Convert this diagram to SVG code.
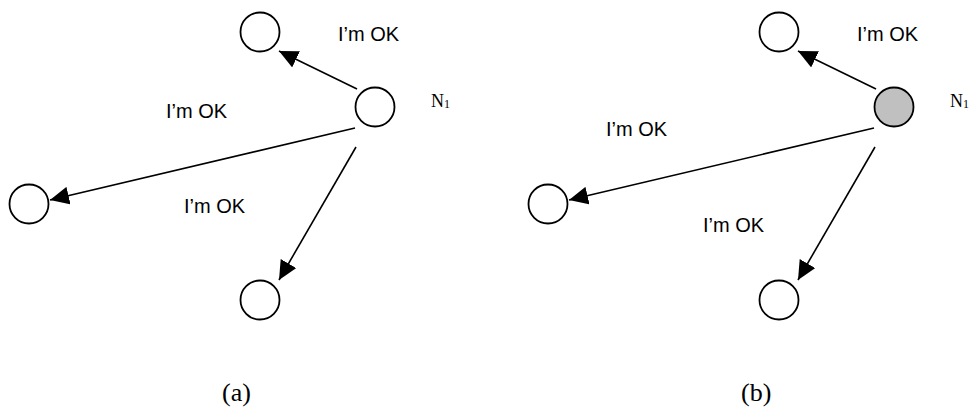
<svg xmlns="http://www.w3.org/2000/svg" width="972" height="410" viewBox="0 0 972 410">
  <style>
    .node { fill: #ffffff; stroke: #000000; stroke-width: 1.8; }
    .node.fail { fill: #c0c0c0; }
    .edge { stroke: #000000; stroke-width: 1.6; fill: none; marker-end: url(#arrow); }
    .msg { font-family: "Liberation Sans", Arial, sans-serif; font-size: 20px; fill: #000000; }
    .serif { font-family: "Liberation Serif", "Times New Roman", serif; fill: #000000; }
  </style>
  <defs>
    <marker id="arrow" markerUnits="userSpaceOnUse" markerWidth="20" markerHeight="18" refX="19" refY="9" orient="auto">
      <path d="M0,0 L19,9 L0,18 z" fill="#000000"/>
    </marker>
  </defs>
  <rect width="972" height="410" fill="#ffffff"/>

  <!-- Panel (a) -->
  <g id="connectors-a">
    <line class="edge" x1="357" y1="89" x2="279" y2="51"/>
    <line class="edge" x1="355" y1="128" x2="50" y2="200"/>
    <line class="edge" x1="356" y1="147" x2="279" y2="280"/>
  </g>
  <g id="a-n1"><circle class="node" cx="375" cy="107" r="19.5"/>
    <text class="serif" x="431" y="107" font-size="18">N<tspan font-size="12" dy="1">1</tspan></text></g>
  <g id="a-top"><circle class="node" cx="260" cy="32" r="19.5"/></g>
  <g id="a-left"><circle class="node" cx="29" cy="204" r="19.5"/></g>
  <g id="a-bottom"><circle class="node" cx="260" cy="300" r="19.5"/></g>
  <g id="a-labels">
    <text class="msg" x="338" y="41">I’m OK</text>
    <text class="msg" x="166" y="118">I’m OK</text>
    <text class="msg" x="184" y="213">I’m OK</text>
    <text class="serif" x="222" y="401" font-size="26">(a)</text>
  </g>

  <!-- Panel (b) -->
  <g id="connectors-b">
    <line class="edge" x1="876" y1="89" x2="798" y2="51"/>
    <line class="edge" x1="874" y1="128" x2="569" y2="200"/>
    <line class="edge" x1="875" y1="147" x2="798" y2="280"/>
  </g>
  <g id="b-n1"><circle class="node fail" cx="894" cy="107" r="19.5"/>
    <text class="serif" x="950" y="107" font-size="18">N<tspan font-size="12" dy="1">1</tspan></text></g>
  <g id="b-top"><circle class="node" cx="779" cy="32" r="19.5"/></g>
  <g id="b-left"><circle class="node" cx="548" cy="204" r="19.5"/></g>
  <g id="b-bottom"><circle class="node" cx="779" cy="300" r="19.5"/></g>
  <g id="b-labels">
    <text class="msg" x="857" y="41">I’m OK</text>
    <text class="msg" x="606" y="136">I’m OK</text>
    <text class="msg" x="703" y="232">I’m OK</text>
    <text class="serif" x="741" y="401" font-size="26">(b)</text>
  </g>
</svg>
